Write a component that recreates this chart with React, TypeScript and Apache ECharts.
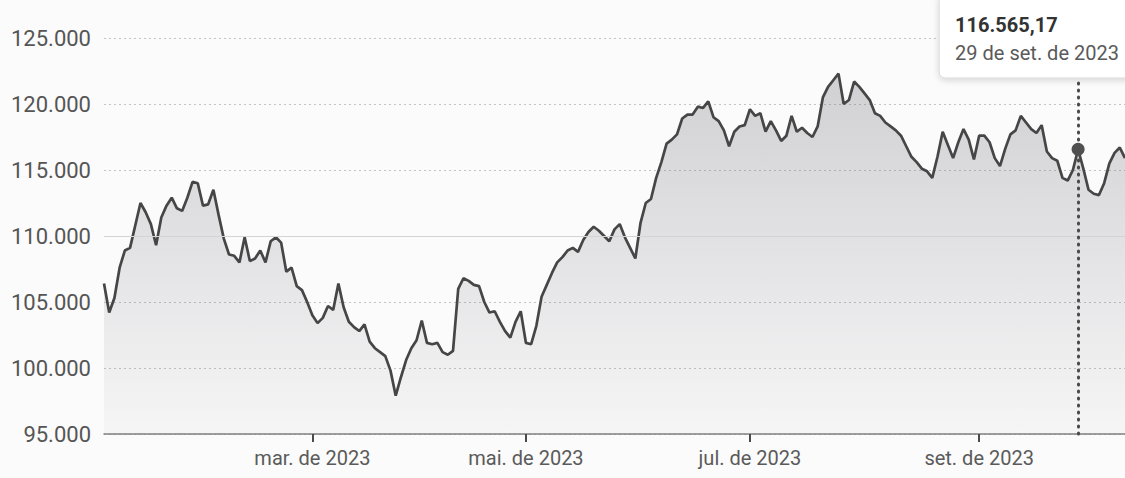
import React, { useEffect, useRef } from "react";
import * as echarts from "echarts";

// ---- data ----
const START_DATE = "2023-01-02";
const HOLIDAYS = [
  "2023-02-20", "2023-02-21", "2023-04-07", "2023-04-21",
  "2023-05-01", "2023-06-08", "2023-09-07", "2023-10-12",
];
const CLOSES = [
  106400, 104200, 105300, 107600, 108900, 109100, 110800, 112500, 111800, 110900,
  109300, 111400, 112300, 112900, 112100, 111900, 112900, 114100, 114000, 112300,
  112400, 113500, 111600, 109800, 108600, 108500, 108000, 109900, 108100, 108300,
  108900, 108000, 109600, 109900, 109500, 107300, 107600, 106200, 105900, 105000,
  104000, 103400, 103800, 104700, 104400, 106400, 104600, 103500, 103100, 102800,
  103300, 102000, 101500, 101200, 100900, 99800, 97900, 99300, 100600, 101500,
  102100, 103600, 101900, 101800, 101900, 101200, 101000, 101300, 106000, 106800,
  106600, 106300, 106200, 105000, 104200, 104300, 103500, 102800, 102300, 103500,
  104300, 101900, 101800, 103200, 105400, 106300, 107200, 108000, 108400, 108900,
  109100, 108800, 109700, 110300, 110700, 110400, 110000, 109600, 110500, 110900,
  109900, 109100, 108300, 111000, 112500, 112800, 114400, 115600, 117000, 117300,
  117700, 118900, 119200, 119200, 119800, 119700, 120200, 119000, 118700, 118000,
  116800, 117900, 118300, 118400, 119600, 119100, 119300, 117900, 118700, 118000,
  117200, 117600, 119100, 117900, 118200, 117800, 117500, 118300, 120500, 121300,
  121800, 122300, 120000, 120300, 121700, 121300, 120800, 120300, 119300, 119100,
  118600, 118300, 118000, 117600, 116800, 116000, 115600, 115100, 114900, 114400,
  116000, 117900, 116900, 115900, 117100, 118100, 117300, 115800, 117600, 117600,
  117100, 115900, 115300, 116600, 117700, 118000, 119100, 118600, 118100, 117800,
  118400, 116400, 115900, 115700, 114400, 114200, 115000, 116565.17, 115100, 113500,
  113200, 113100, 114000, 115500, 116300, 116700, 115900,
];
const Y_MIN = 95000;
const Y_MAX = 125000;
const Y_STEP = 5000;
const LABELED_DATES = ["2023-03-01", "2023-05-02", "2023-07-03", "2023-09-01"];
const HIGHLIGHT_DATE = "2023-09-29";
const REFERENCE_LEVEL = 110000;
const MONTHS_PT = ["jan.", "fev.", "mar.", "abr.", "mai.", "jun.", "jul.", "ago.", "set.", "out.", "nov.", "dez."];

function buildTradingDays(start: string, count: number, holidays: string[]) {
  const out: string[] = [];
  const hol = new Set(holidays);
  const d = new Date(start + "T00:00:00Z");
  while (out.length < count) {
    const wd = d.getUTCDay();
    const iso = d.toISOString().slice(0, 10);
    if (wd !== 0 && wd !== 6 && !hol.has(iso)) out.push(iso);
    d.setUTCDate(d.getUTCDate() + 1);
  }
  return out;
}

function fmtNum(v: number, decimals = 0) {
  const fixed = v.toFixed(decimals);
  const [intPart, dec] = fixed.split(".");
  const withSep = intPart.replace(/\B(?=(\d{3})+(?!\d))/g, ".");
  return dec ? `${withSep},${dec}` : withSep;
}
function fmtMonth(iso: string) {
  const [y, m] = iso.split("-");
  return `${MONTHS_PT[Number(m) - 1]} de ${y}`;
}
function fmtDay(iso: string) {
  const [y, m, d] = iso.split("-");
  return `${Number(d)} de ${MONTHS_PT[Number(m) - 1]} de ${y}`;
}

export default function App() {
  const ref = useRef<HTMLDivElement>(null);
  useEffect(() => {
    document.body.style.margin = "0";
    const dates = buildTradingDays(START_DATE, CLOSES.length, HOLIDAYS);
    const labeled = new Set(LABELED_DATES);
    const hiIdx = dates.indexOf(HIGHLIGHT_DATE);
    const hiVal = CLOSES[hiIdx];
    const chart = echarts.init(ref.current!, null, { renderer: "svg" });
    const font = "Roboto";
    chart.setOption({
      animation: false,
      backgroundColor: "#fbfbfb",
      textStyle: { fontFamily: font },
      grid: { left: 104, right: -2, top: 38, bottom: 44 },
      xAxis: {
        type: "category",
        data: dates,
        boundaryGap: false,
        axisLine: { lineStyle: { color: "#808080", width: 1.5 } },
        axisTick: {
          show: true,
          interval: (_i: number, v: string) => labeled.has(v),
          length: 8,
          lineStyle: { color: "#4a4a4a", width: 2 },
        },
        axisLabel: {
          interval: (_i: number, v: string) => labeled.has(v),
          formatter: (v: string) => fmtMonth(v),
          color: "#5a5a5a",
          fontSize: 20,
          fontFamily: font,
          margin: 14,
        },
        splitLine: { show: false },
      },
      yAxis: {
        type: "value",
        min: Y_MIN,
        max: Y_MAX,
        interval: Y_STEP,
        axisLine: { show: false },
        axisTick: { show: false },
        axisLabel: {
          formatter: (v: number) => fmtNum(v),
          color: "#555555",
          fontSize: 22,
          fontFamily: font,
          margin: 13,
        },
        splitLine: { lineStyle: { type: [2, 3], color: "#c4c4c4", width: 1 } },
      },
      series: [
        {
          type: "line",
          data: CLOSES,
          showSymbol: false,
          lineStyle: { color: "#464646", width: 2.7 },
          areaStyle: {
            color: new echarts.graphic.LinearGradient(0, 0, 0, 1, [
              { offset: 0, color: "rgba(100,100,112,0.40)" },
              { offset: 1, color: "rgba(100,100,112,0.05)" },
            ]),
          },
          markLine: {
            silent: true,
            symbol: "none",
            label: { show: false },
            data: [
              { yAxis: REFERENCE_LEVEL, lineStyle: { type: "solid", color: "#d4d4d4", width: 1 } },
              [
                { coord: [HIGHLIGHT_DATE, Y_MIN], lineStyle: { type: [1, 6], color: "#4a4a4a", width: 3, cap: "round" } },
                { coord: [HIGHLIGHT_DATE, Y_MAX - 3000] },
              ],
            ],
          },
          markPoint: {
            silent: true,
            symbol: "circle",
            symbolSize: 13,
            itemStyle: { color: "#505050" },
            label: { show: false },
            data: [{ coord: [HIGHLIGHT_DATE, hiVal] }],
          },
        },
      ],
    });
    const [px] = chart.convertToPixel({ seriesIndex: 0 }, [hiIdx, hiVal]) as number[];
    const boxX = px - 139;
    chart.setOption({
      graphic: [
        {
          type: "rect",
          shape: { x: boxX, y: -6, width: 240, height: 84, r: 6 },
          style: {
            fill: "#ffffff",
            stroke: "#d8d8d8",
            lineWidth: 1,
            shadowBlur: 6,
            shadowOffsetY: 2,
            shadowColor: "rgba(0,0,0,0.15)",
          },
          z: 100,
        },
        {
          type: "text",
          x: boxX + 16,
          y: 25,
          style: {
            text: fmtNum(hiVal, 2),
            font: `bold 20px ${font}`,
            fill: "#333333",
            verticalAlign: "middle",
          },
          z: 101,
        },
        {
          type: "text",
          x: boxX + 16,
          y: 53,
          style: {
            text: fmtDay(HIGHLIGHT_DATE),
            font: `20px ${font}`,
            fill: "#5a5a5a",
            verticalAlign: "middle",
          },
          z: 101,
        },
      ],
    });
    return () => chart.dispose();
  }, []);
  return <div ref={ref} style={{ width: 1125, height: 478 }} />;
}
